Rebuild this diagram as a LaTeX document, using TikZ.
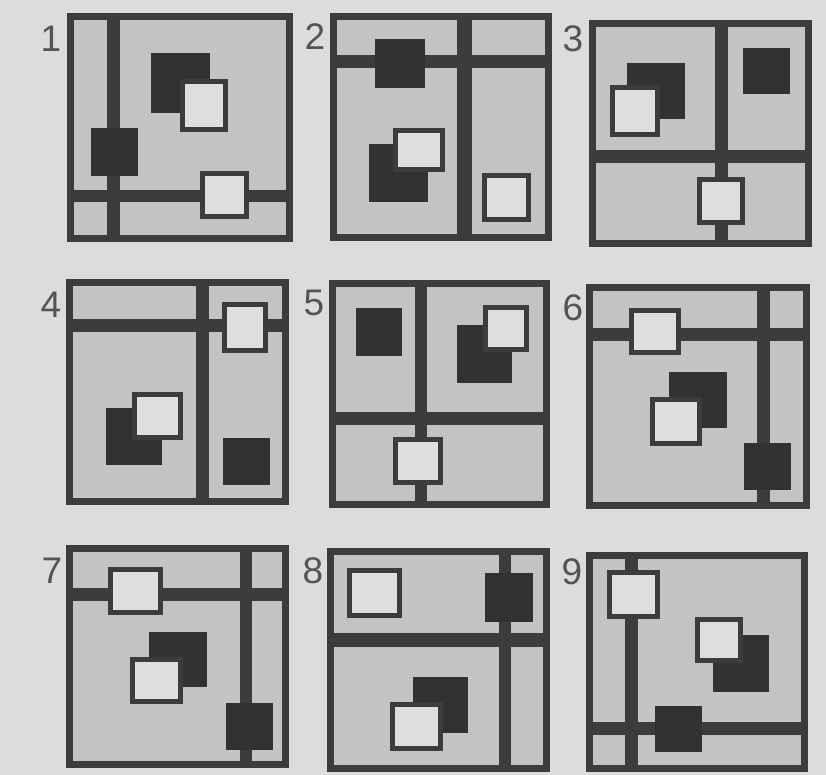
\documentclass[tikz,border=0pt]{standalone}
\usepackage{fontspec}
\setmainfont{Liberation Sans}
\definecolor{pagebg}{HTML}{DCDCDC}
\definecolor{mid}{HTML}{C3C3C3}
\definecolor{dk}{HTML}{3E3B3B}
\definecolor{dkk}{HTML}{333131}
\definecolor{lt}{HTML}{DEDEDE}
\definecolor{numc}{HTML}{555353}
\tikzset{
  frm/.style={draw=dk, line width=7pt},
  inner/.style={fill=mid},
  barfill/.style={fill=dk},
  darksq/.style={fill=dkk},
  whitesq/.style={draw=dk, line width=5pt, fill=lt},
  num/.style={font=\fontsize{37}{37}\selectfont, text=numc, inner sep=0pt}
}
% panel frame: x1 y1 x2 y2
\newcommand{\pnlbg}[4]{\fill[inner] (#1,#2) rectangle (#3,#4);}
\newcommand{\pnlfr}[4]{\draw[frm] ({#1+3.5},{#2+3.5}) rectangle ({#3-3.5},{#4-3.5});}
\newcommand{\rbar}[4]{\fill[barfill] (#1,#2) rectangle (#3,#4);}
\newcommand{\dsqr}[4]{\fill[darksq] (#1,#2) rectangle (#3,#4);}
\newcommand{\wsqr}[4]{\draw[whitesq] ({#1+2.5},{#2+2.5}) rectangle ({#3-2.5},{#4-2.5});}
\begin{document}
\begin{tikzpicture}[x=1pt,y=-1pt]
\fill[pagebg] (0,0) rectangle (826,775);
\useasboundingbox (0,0) rectangle (826,775);

% ---------- Panel 1
\pnlbg{67}{13}{293}{242}
\rbar{107}{13}{120}{242}
\rbar{67}{190}{293}{202}
\dsqr{151}{53}{210}{113}
\wsqr{180}{79}{228}{132}
\dsqr{91}{128}{138}{176}
\wsqr{200}{171}{249}{219}
\pnlfr{67}{13}{293}{242}
\node[num] (n1) at (51,39) {1};

% ---------- Panel 2
\pnlbg{330}{13}{552}{241}
\rbar{457}{13}{472}{241}
\rbar{330}{55}{552}{68}
\dsqr{375}{39}{425}{88}
\dsqr{369}{144}{428}{202}
\wsqr{393}{128}{445}{172}
\wsqr{482}{173}{531}{222}
\pnlfr{330}{13}{552}{241}
\node[num] (n2) at (315,37) {2};

% ---------- Panel 3
\pnlbg{589}{20}{812}{247}
\rbar{715}{20}{728}{247}
\rbar{589}{150}{812}{163}
\dsqr{743}{48}{790}{94}
\dsqr{627}{63}{685}{119}
\wsqr{610}{85}{660}{137}
\wsqr{697}{177}{745}{225}
\pnlfr{589}{20}{812}{247}
\node[num] (n3) at (573,39) {3};

% ---------- Panel 4
\pnlbg{66}{279}{289}{505}
\rbar{196}{279}{209}{505}
\rbar{66}{319}{289}{332}
\wsqr{222}{302}{268}{353}
\dsqr{106}{408}{162}{465}
\wsqr{132}{392}{183}{440}
\dsqr{223}{438}{270}{485}
\pnlfr{66}{279}{289}{505}
\node[num] (n4) at (51,305) {4};

% ---------- Panel 5
\pnlbg{329}{280}{550}{508}
\rbar{415}{280}{427}{508}
\rbar{329}{412}{550}{425}
\dsqr{356}{308}{402}{356}
\dsqr{457}{325}{512}{383}
\wsqr{483}{305}{529}{352}
\wsqr{393}{437}{443}{485}
\pnlfr{329}{280}{550}{508}
\node[num] (n5) at (314,303) {5};

% ---------- Panel 6
\pnlbg{586}{284}{810}{509}
\rbar{757}{284}{770}{509}
\rbar{586}{328}{810}{341}
\wsqr{629}{308}{681}{355}
\dsqr{669}{372}{727}{428}
\wsqr{650}{397}{702}{446}
\dsqr{744}{443}{791}{490}
\pnlfr{586}{284}{810}{509}
\node[num] (n6) at (573,308) {6};

% ---------- Panel 7
\pnlbg{66}{545}{289}{768}
\rbar{240}{545}{252}{768}
\rbar{66}{588}{289}{601}
\wsqr{108}{567}{163}{615}
\dsqr{149}{632}{207}{687}
\wsqr{130}{657}{183}{704}
\dsqr{226}{703}{273}{750}
\pnlfr{66}{545}{289}{768}
\node[num] (n7) at (52,571) {7};

% ---------- Panel 8
\pnlbg{327}{548}{550}{772}
\rbar{499}{548}{511}{772}
\rbar{327}{633}{550}{647}
\wsqr{347}{568}{402}{618}
\dsqr{485}{573}{533}{622}
\dsqr{413}{677}{468}{733}
\wsqr{390}{702}{443}{751}
\pnlfr{327}{548}{550}{772}
\node[num] (n8) at (313,571) {8};

% ---------- Panel 9
\pnlbg{586}{552}{808}{772}
\rbar{625}{552}{638}{772}
\rbar{586}{722}{808}{735}
\wsqr{607}{570}{660}{619}
\dsqr{713}{635}{769}{692}
\wsqr{695}{617}{743}{663}
\dsqr{655}{706}{702}{752}
\pnlfr{586}{552}{808}{772}
\node[num] (n9) at (572,572) {9};
\end{tikzpicture}
\end{document}
